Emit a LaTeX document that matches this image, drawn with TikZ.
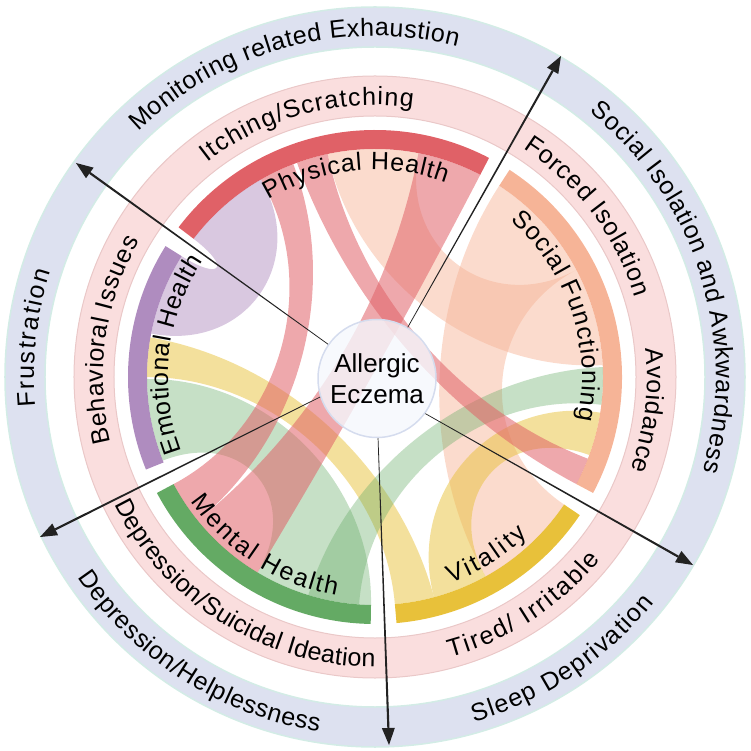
\documentclass[tikz,border=0pt]{standalone}
\usepackage{fontspec}
\setmainfont{Liberation Sans}
\usetikzlibrary{calc,decorations.text}

\definecolor{phys}{HTML}{E06167}
\definecolor{soc}{HTML}{F6B497}
\definecolor{vit}{HTML}{E8C13A}
\definecolor{ment}{HTML}{64AA64}
\definecolor{emo}{HTML}{AF8CBF}
\definecolor{pinkband}{HTML}{FADEDE}
\definecolor{pinkedge}{HTML}{EAC8C8}
\definecolor{blueband}{HTML}{DDE1F0}
\definecolor{blueedge}{HTML}{D3ECE6}
\definecolor{ctrfill}{HTML}{F5F8FD}
\definecolor{ctredge}{HTML}{D5DCEE}
\definecolor{arrowcol}{HTML}{222222}

\newcommand\lblfont{\fontsize{25}{30}\selectfont}
\newcommand\secfont{\fontsize{25}{30}\selectfont}

% radius, start angle, end angle, font, text
\newcommand\arclabel[5]{\path[decorate,decoration={text along path,text={|#4|#5},text align=fit to path}] (#2:#1) arc[start angle=#2,end angle=#3,radius=#1];}
% a1 a2 b1 b2 ctrlA ctrlB style
\newcommand\ribbon[7]{\fill[#7] (#1:228) arc[start angle=#1,end angle=#2,radius=228] .. controls (#2:#5) and (#3:#5) .. (#3:228) arc[start angle=#3,end angle=#4,radius=228] .. controls (#4:#6) and (#1:#6) .. (#1:228) -- cycle;}
\newcommand\sectorarc[3]{\fill[#3] (#1:228) arc[start angle=#1,end angle=#2,radius=228] -- (#2:247) arc[start angle=#2,end angle=#1,radius=247] -- cycle;}
% start, tip (tip is a coordinate name)
\newcommand\taperarrow[2]{%
 \coordinate (#2base) at ($(#2)!17pt!(#1)$);
 \fill[arrowcol] ($(#1)!0.35pt!90:(#2)$) -- ($(#2base)!1.1pt!-90:(#1)$) -- ($(#2base)!1.1pt!90:(#1)$) -- ($(#1)!0.35pt!-90:(#2)$) -- cycle;
 \fill[arrowcol] ($(#2base)!6.5pt!-90:(#1)$) -- (#2) -- ($(#2base)!6.5pt!90:(#1)$) -- cycle;}

\tikzset{
  redch/.style={fill=phys,fill opacity=0.55},
  peachch/.style={fill=soc,fill opacity=0.48},
  yellowch/.style={fill=vit,fill opacity=0.5},
  greench/.style={fill=ment,fill opacity=0.37},
  purplech/.style={fill=emo,fill opacity=0.48},
}

\begin{document}
\begin{tikzpicture}[x=1pt,y=1pt]
\useasboundingbox (-375,-374) rectangle (375,377);

% outer blue band
\fill[blueband,even odd rule] (0,0) circle[radius=370] (0,0) circle[radius=330];
\draw[blueedge,line width=1.5pt] (0,0) circle[radius=370];
\draw[blueedge,line width=1.5pt] (0,0) circle[radius=330];
% pink band
\fill[pinkband,even odd rule] (0,0) circle[radius=301] (0,0) circle[radius=261];
\draw[pinkedge,line width=1pt] (0,0) circle[radius=301];
\draw[pinkedge,line width=1pt] (0,0) circle[radius=261];

% sector arcs
\sectorarc{62.5}{142.7}{phys}
\sectorarc{148}{202}{emo}
\sectorarc{208}{269}{ment}
\sectorarc{275}{326}{vit}
\sectorarc{332}{417}{soc}

% chords
\ribbon{299}{326}{388}{417}{122}{91}{peachch}
\ribbon{79}{102}{363}{388}{100}{130}{peachch}
\ribbon{170}{180}{275}{285}{103}{92}{yellowch}
\ribbon{285}{299}{340}{351}{138}{119}{yellowch}
\ribbon{180.5}{201.5}{239}{269}{141}{106}{greench}
\ribbon{253}{266}{353}{362.5}{107}{95}{greench}
\ribbon{111}{120}{208}{219}{106}{96}{redch}
\ribbon{62.5}{79}{219}{239}{80}{65}{redch}
\ribbon{102}{110}{332}{339}{81}{88}{redch}
\ribbon{120}{142.7}{148}{169}{181}{132}{purplech}

% outer band labels
\arclabel{341}{134}{76}{\lblfont}{Monitoring related Exhaustion}
\arclabel{341}{51}{-16}{\lblfont}{Social Isolation and Awkwardness}
\arclabel{359}{-74}{-39}{\lblfont}{Sleep Deprivation}
\arclabel{359}{214}{261}{\lblfont}{Depression/Helplessness}
\arclabel{341}{185}{162}{\lblfont}{Frustration}
% pink band labels
\arclabel{272}{128}{82}{\lblfont}{Itching/Scratching}
\arclabel{272}{57}{17}{\lblfont}{Forced Isolation}
\arclabel{272}{6}{-20}{\lblfont}{Avoidance}
\arclabel{290}{-75}{-39}{\lblfont}{Tired/ Irritable}
\arclabel{290}{206}{270}{\lblfont}{Depression/Suicidal Ideation}
\arclabel{272}{194}{150}{\lblfont}{Behavioral Issues}
% sector labels
\arclabel{207}{121}{70}{\secfont}{Physical Health}
\arclabel{207}{49}{-12}{\secfont}{Social Functioning}
\arclabel{207}{201}{146}{\secfont}{Emotional Health}
\arclabel{222}{214}{260}{\secfont}{Mental Health}
\arclabel{220}{290}{314}{\secfont}{Vitality}

% centre
\node[circle,draw=ctredge,line width=1.5pt,fill=ctrfill,fill opacity=0.8,text opacity=1,
      minimum size=118pt,inner sep=0pt,align=center,font=\fontsize{26}{31}\selectfont] (ctr) at (2,-1.5) {Allergic\\Eczema};

% arrows
\coordinate (h1) at (-299,214);
\coordinate (h2) at (186,321);
\coordinate (h3) at (-335,-160);
\coordinate (h4) at (14,-368);
\coordinate (h5) at (318,-188);
\taperarrow{ctr.145}{h1}
\taperarrow{ctr.59}{h2}
\taperarrow{ctr.198}{h3}
\taperarrow{ctr.-89}{h4}
\taperarrow{ctr.-36}{h5}
\end{tikzpicture}
\end{document}
